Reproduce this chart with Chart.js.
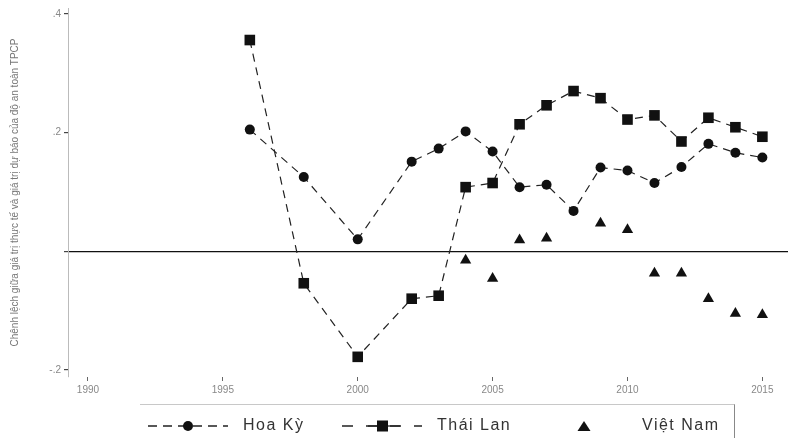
<!DOCTYPE html>
<html>
<head>
<meta charset="utf-8">
<script src="https://cdn.jsdelivr.net/npm/chart.js@4.4.1/dist/chart.umd.min.js"></script>
<style>
body { margin: 0; background: #fff; font-family: "Liberation Sans", Arial, sans-serif; }
#wrap { position: relative; width: 788px; height: 438px; overflow: hidden; }
#chart { position: absolute; left: 0; top: 0; }
#legend { position: absolute; left: 140px; top: 404px; width: 594px; height: 34px;
          border-top: 1px solid #c8c8c8; border-right: 1px solid #888; }
.sym { position: absolute; top: 14px; }
.lbl { position: absolute; top: 11px; font-size: 16px; line-height: 18px; letter-spacing: 1.5px; color: #333; }
</style>
</head>
<body>
<div id="wrap">
  <canvas id="chart" width="788" height="405"></canvas>
  <div id="legend">
    <svg class="sym" style="left:8px" width="80" height="14"><line x1="0" y1="7" x2="80" y2="7" stroke="#222" stroke-width="1.3" stroke-dasharray="9,6"/><circle cx="40" cy="7" r="5" fill="#111"/></svg>
    <span class="lbl" style="left:103px">Hoa Kỳ</span>
    <svg class="sym" style="left:202px" width="80" height="14"><line x1="0" y1="7" x2="80" y2="7" stroke="#222" stroke-width="1.3" stroke-dasharray="11,13"/><line x1="26" y1="7" x2="58" y2="7" stroke="#222" stroke-width="1.3"/><rect x="35" y="1.5" width="11" height="11" fill="#111"/></svg>
    <span class="lbl" style="left:297px">Thái Lan</span>
    <svg class="sym" style="left:437px" width="14" height="14"><polygon points="7,2 13.5,12 0.5,12" fill="#111"/></svg>
    <span class="lbl" style="left:502px">Việt Nam</span>
  </div>
</div>
<script>
// values
const years = [1996, 1998, 2000, 2002, 2003, 2004, 2005, 2006, 2007, 2008, 2009, 2010, 2011, 2012, 2013, 2014, 2015];
const hoaKy = [0.205, 0.125, 0.02, 0.151, 0.173, 0.202, 0.168, 0.108, 0.112, 0.068, 0.141, 0.136, 0.115, 0.142, 0.181, 0.166, 0.158];
const thaiLan = [0.356, -0.054, -0.178, -0.08, -0.075, 0.108, 0.115, 0.214, 0.246, 0.27, 0.258, 0.222, 0.229, 0.185, 0.225, 0.209, 0.193];
const vnYears = [2004, 2005, 2006, 2007, 2009, 2010, 2011, 2012, 2013, 2014, 2015];
const vietNam = [-0.015, -0.046, 0.019, 0.022, 0.047, 0.036, -0.037, -0.037, -0.08, -0.105, -0.107];
const xTicks = [1990, 1995, 2000, 2005, 2010, 2015];
const yTicks = [-0.2, 0, 0.2, 0.4];
const yLabels = { '-0.2': '-.2', '0': '', '0.2': '.2', '0.4': '.4' };

function pts(xs, ys) {
    return xs.map((x, i) => ({ x: x, y: ys[i] }));
}

const ctx = document.getElementById('chart').getContext('2d');
new Chart(ctx, {
    type: 'line',
    data: {
        datasets: [{
            label: 'Hoa Kỳ',
            data: pts(years, hoaKy),
            borderColor: '#222',
            borderWidth: 1.2,
            borderDash: [8, 6],
            pointStyle: 'circle',
            pointRadius: 5,
            pointBackgroundColor: '#111',
            pointBorderWidth: 0
        }, {
            label: 'Thái Lan',
            data: pts(years, thaiLan),
            borderColor: '#222',
            borderWidth: 1.2,
            borderDash: [8, 6],
            pointStyle: 'rect',
            pointRadius: 7.5,
            pointBackgroundColor: '#111',
            pointBorderWidth: 0
        }, {
            label: 'Việt Nam',
            data: pts(vnYears, vietNam),
            showLine: false,
            pointStyle: 'triangle',
            pointRadius: 6.5,
            pointBackgroundColor: '#111',
            pointBorderWidth: 0
        }]
    },
    options: {
        responsive: false,
        animation: false,
        layout: { autoPadding: false, padding: { top: 8, right: 0, left: 0, bottom: 0 } },
        plugins: {
            legend: { display: false },
            tooltip: { enabled: false }
        },
        scales: {
            x: {
                type: 'linear',
                min: 1989.26,
                max: 2015.95,
                afterBuildTicks: s => { s.ticks = xTicks.map(v => ({ value: v })); },
                afterFit: s => { s.height = 28; s.paddingLeft = 0; s.paddingRight = 0; },
                ticks: { color: '#888', font: { size: 10 }, padding: 3, callback: v => String(v) },
                grid: { drawOnChartArea: false, tickLength: 4, tickColor: '#666' },
                border: { display: false }
            },
            y: {
                min: -0.212,
                max: 0.41,
                afterBuildTicks: s => { s.ticks = yTicks.map(v => ({ value: v })); },
                afterFit: s => { s.width = 68; s.paddingTop = 0; s.paddingBottom = 0; },
                ticks: { color: '#888', font: { size: 10 }, padding: 3, callback: v => yLabels[String(v)] },
                grid: {
                    color: c => (c.tick && c.tick.value === 0) ? '#111' : 'rgba(0,0,0,0)',
                    lineWidth: 1.2,
                    tickLength: 4,
                    tickColor: '#444'
                },
                border: { display: true, color: '#bbb' },
                title: {
                    display: true,
                    text: 'Chênh lệch giữa giá trị thực tế và giá trị dự báo của độ an toàn TPCP',
                    color: '#777',
                    font: { size: 10 },
                    padding: { top: 9, bottom: 0 }
                }
            }
        }
    }
});
</script>
</body>
</html>
